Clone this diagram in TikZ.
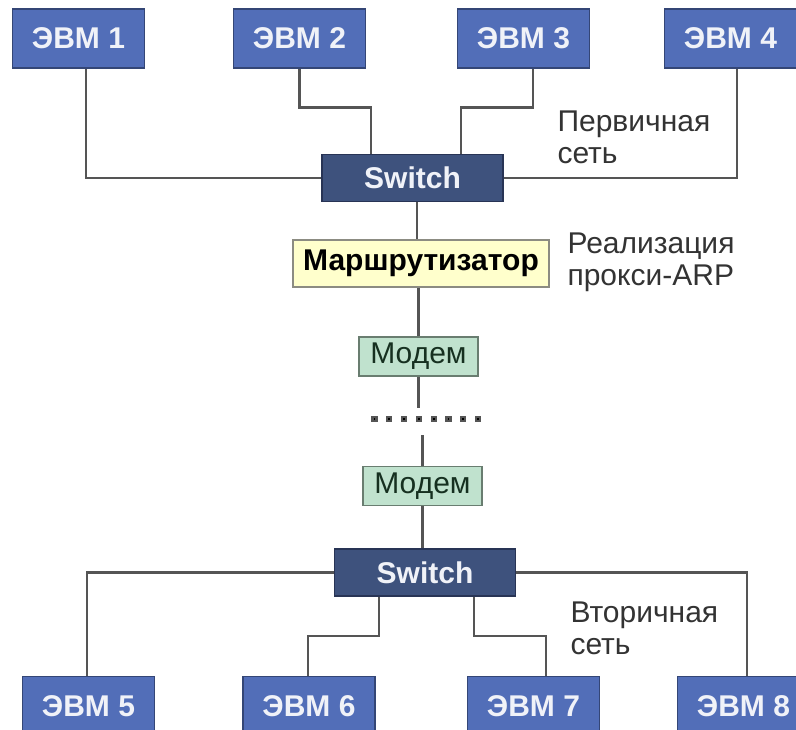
\documentclass[tikz,border=0pt]{standalone}
\usepackage{fontspec}
\setmainfont{Liberation Sans}
\usepackage{xcolor}
\definecolor{evmblue}{RGB}{82,110,184}
\definecolor{evmedge}{RGB}{52,70,118}
\definecolor{swblue}{RGB}{62,82,125}
\definecolor{swedge}{RGB}{40,52,85}
\definecolor{routfill}{RGB}{255,255,204}
\definecolor{routedge}{RGB}{140,140,130}
\definecolor{modfill}{RGB}{192,226,206}
\definecolor{modedge}{RGB}{105,125,112}
\definecolor{modtext}{RGB}{22,48,32}
\definecolor{wire}{RGB}{85,85,85}
\definecolor{boxtext}{RGB}{240,242,248}

\begin{document}
\begin{tikzpicture}[
    x=1pt, y=-1pt,
    evm/.style={draw=evmedge, fill=evmblue, line width=1.2pt, minimum width=132pt, minimum height=59pt, text=boxtext, font=\bfseries\fontsize{30}{32}\selectfont},
    switchbox/.style={draw=swedge, fill=swblue, line width=1.2pt, minimum width=181pt, minimum height=47pt, text=boxtext, font=\bfseries\fontsize{30}{32}\selectfont},
    router/.style={draw=routedge, fill=routfill, line width=1.2pt, minimum width=256pt, minimum height=47pt, inner sep=1pt, font=\bfseries\fontsize{30}{32}\selectfont},
    modem/.style={draw=modedge, fill=modfill, line width=1.2pt, minimum width=119pt, minimum height=39pt, inner sep=1pt, text=modtext, font=\fontsize{30}{32}\selectfont},
    note/.style={anchor=west, align=left, text=black!80, font=\fontsize{30}{32}\selectfont},
    wire/.style={draw=wire, line width=2.2pt}
]
    \clip (0,0) rectangle (796,730);

    % Primary network
    \node[evm] (evm1) at (78.5,38.5) {ЭВМ 1};
    \node[evm] (evm2) at (299.5,38.5) {ЭВМ 2};
    \node[evm] (evm3) at (523.5,38.5) {ЭВМ 3};
    \node[evm] (evm4) at (730.5,38.5) {ЭВМ 4};
    \node[switchbox] (sw1) at (412.5,178) {Switch};
    \node[note] (prim) at (554,137) {Первичная\\сеть};

    % Router and modems
    \node[router] (rout) at (421,263.5) {Маршрутизатор};
    \node[note] (proxy) at (564,262) {Реализация\\прокси-ARP};
    \node[modem] (mod1) at (418.5,356.5) {Модем};
    \coordinate (dtop) at (418.5,408);
    \coordinate (dbot) at (422.5,435);
    \node[modem] (mod2) at (422.5,486) {Модем};

    % Secondary network
    \node[switchbox] (sw2) at (425,572.5) {Switch};
    \node[evm] (evm5) at (88.5,706) {ЭВМ 5};
    \node[evm] (evm6) at (309,706) {ЭВМ 6};
    \node[evm] (evm7) at (533.5,706) {ЭВМ 7};
    \node[evm] (evm8) at (743.5,706) {ЭВМ 8};
    \node[note] (sec) at (567,628) {Вторичная\\сеть};

    % Wires, primary side
    \draw[wire] ([xshift=7.5pt]evm1.south) |- (sw1.west);
    \draw[wire] (evm2.south) -- ++(0,39) -| ([xshift=-41.5pt]sw1.north);
    \draw[wire] ([xshift=9.5pt]evm3.south) -- ++(0,39) -| ([xshift=48.5pt]sw1.north);
    \draw[wire] ([xshift=6.5pt]evm4.south) |- (sw1.east);

    % Wires, router to switch
    \draw[wire] ([xshift=4.5pt]sw1.south) -- ([xshift=-4pt]rout.north);
    \draw[wire] (mod1.north |- rout.south) -- (mod1.north);
    \draw[wire] (mod1.south) -- (dtop);
    \foreach \i in {0,...,7}
        \fill[wire] (372.5+\i*14.8,417) rectangle ++(4,4);
    \draw[wire] (dbot) -- (mod2.north);
    \draw[wire] (mod2.south) -- (mod2.south |- sw2.north);

    % Wires, secondary side
    \draw[wire] (sw2.west) -| ([xshift=-1.5pt]evm5.north);
    \draw[wire] ([xshift=-46pt]sw2.south) -- ++(0,39) -| ([xshift=-1pt]evm6.north);
    \draw[wire] ([xshift=49pt]sw2.south) -- ++(0,39) -| ([xshift=12.5pt]evm7.north);
    \draw[wire] (sw2.east) -| ([xshift=3.5pt]evm8.north);
\end{tikzpicture}
\end{document}
